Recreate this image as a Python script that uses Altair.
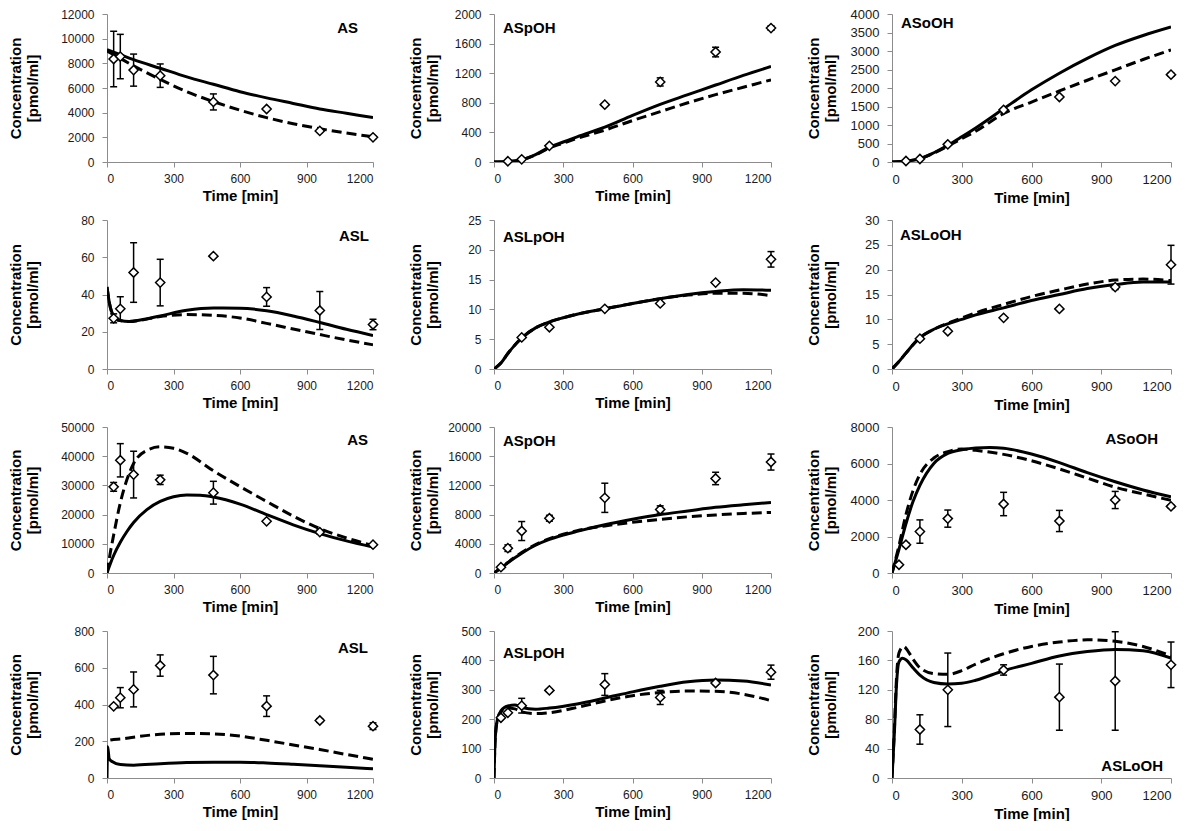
import altair as alt
import pandas as pd

X_TICKS = [0, 300, 600, 900, 1200]
Y_TITLE = ["Concentration", "[pmol/ml]"]

# ---------------- Row 1 ----------------
# AS (row 1)
A1_obs_t = [30, 60, 120, 240, 480, 720, 960, 1200]
A1_obs_y = [8350, 8550, 7450, 7000, 4870, 4300, 2520, 2000]
A1_obs_sd = [2250, 1800, 1300, 950, 650, 0, 0, 100]
A1_sol_t = [0, 60, 120, 240, 360, 480, 600, 720, 840, 960, 1080, 1200]
A1_sol_y = [9100, 8700, 8300, 7600, 6900, 6300, 5700, 5200, 4750, 4300, 3950, 3600]
A1_das_t = [0, 60, 120, 240, 360, 480, 600, 720, 840, 960, 1080, 1200]
A1_das_y = [9000, 8400, 7800, 6700, 5700, 4900, 4200, 3600, 3100, 2700, 2350, 2050]

# ASpOH (row 1)
B1_obs_t = [60, 120, 240, 480, 720, 960, 1200]
B1_obs_y = [10, 36, 218, 775, 1082, 1486, 1810]
B1_obs_sd = [0, 0, 0, 0, 55, 65, 30]
B1_sol_t = [0, 60, 120, 180, 240, 300, 360, 480, 600, 720, 840, 960, 1080, 1200]
B1_sol_y = [0, 5, 30, 100, 200, 270, 340, 470, 630, 780, 910, 1040, 1170, 1290]
B1_das_t = [0, 60, 120, 180, 240, 300, 360, 480, 600, 720, 840, 960, 1080, 1200]
B1_das_y = [0, 5, 30, 95, 190, 255, 320, 430, 560, 680, 800, 910, 1010, 1110]

# ASoOH (row 1)
C1_obs_t = [60, 120, 240, 480, 720, 960, 1200]
C1_obs_y = [27, 80, 476, 1409, 1757, 2187, 2361]
C1_obs_sd = [0, 0, 0, 0, 0, 0, 40]
C1_sol_t = [0, 60, 120, 180, 240, 300, 360, 480, 600, 720, 840, 960, 1080, 1200]
C1_sol_y = [0, 25, 90, 250, 450, 680, 920, 1440, 1950, 2400, 2800, 3150, 3420, 3650]
C1_das_t = [0, 60, 120, 180, 240, 300, 360, 480, 600, 720, 840, 960, 1080, 1200]
C1_das_y = [0, 25, 90, 240, 430, 630, 830, 1310, 1620, 1920, 2210, 2490, 2770, 3030]

# ---------------- Row 2 ----------------
# ASL (row 2)
A2_obs_t = [30, 60, 120, 240, 480, 720, 960, 1200]
A2_obs_y = [27.2, 32.3, 51.8, 46.4, 60.6, 38.7, 31.4, 23.9]
A2_obs_sd = [2.4, 6.5, 16, 12.5, 0, 5, 10.2, 2.8]
A2_sol_t = [0, 10, 20, 40, 60, 100, 150, 240, 360, 480, 600, 720, 840, 960, 1080, 1200]
A2_sol_y = [44, 36, 31, 27.5, 26, 25.5, 26.3, 28.5, 31.5, 32.7, 32.6, 31.3, 28.5, 25, 21.3, 18]
A2_das_t = [0, 10, 20, 40, 60, 100, 150, 240, 360, 480, 600, 720, 840, 960, 1080, 1200]
A2_das_y = [44, 36, 31, 27.5, 26, 25.5, 26.2, 28.2, 29.2, 28.8, 27.4, 24.5, 21.5, 18.5, 15.6, 13]

# ASLpOH (row 2)
B2_obs_t = [120, 240, 480, 720, 960, 1200]
B2_obs_y = [5.3, 7.0, 10.1, 11.0, 14.5, 18.4]
B2_obs_sd = [0, 0, 0, 0, 0, 1.3]
B2_sol_t = [0, 30, 60, 120, 180, 240, 300, 360, 480, 600, 720, 840, 960, 1080, 1200]
B2_sol_y = [0, 1.0, 2.6, 5.2, 6.9, 7.9, 8.6, 9.2, 10.1, 11.0, 11.8, 12.5, 13.0, 13.3, 13.2]
B2_das_t = [0, 30, 60, 120, 180, 240, 300, 360, 480, 600, 720, 840, 960, 1080, 1200]
B2_das_y = [0, 1.0, 2.6, 5.2, 6.9, 7.9, 8.6, 9.2, 10.1, 11.0, 11.8, 12.4, 12.7, 12.7, 12.3]

# ASLoOH (row 2)
C2_obs_t = [120, 240, 480, 720, 960, 1200]
C2_obs_y = [6.1, 7.6, 10.3, 12.1, 16.5, 21.0]
C2_obs_sd = [0, 0, 0, 0, 0.5, 3.9]
C2_sol_t = [0, 30, 60, 120, 180, 240, 300, 360, 480, 600, 720, 840, 960, 1080, 1200]
C2_sol_y = [0, 1.5, 3.2, 6.3, 8.0, 9.1, 10.0, 10.9, 12.3, 13.8, 15.0, 16.2, 17.0, 17.5, 17.5]
C2_das_t = [0, 30, 60, 120, 180, 240, 300, 360, 480, 600, 720, 840, 960, 1080, 1200]
C2_das_y = [0, 1.5, 3.2, 6.3, 8.0, 9.2, 10.3, 11.3, 13.0, 14.6, 15.9, 17.1, 17.9, 18.1, 17.8]

# ---------------- Row 3 ----------------
# AS (row 3)
A3_obs_t = [30, 60, 120, 240, 480, 720, 960, 1200]
A3_obs_y = [29500, 38600, 33700, 31900, 27500, 17700, 14000, 9700]
A3_obs_sd = [1500, 5700, 8000, 1600, 3900, 0, 700, 0]
A3_sol_t = [0, 15, 30, 60, 90, 120, 180, 240, 300, 360, 420, 480, 600, 720, 840, 960, 1080, 1200]
A3_sol_y = [0, 3200, 6000, 10500, 14200, 17300, 21700, 24500, 26100, 26700, 26600, 26000, 23600, 20000, 16500, 13500, 11000, 8900]
A3_das_t = [0, 15, 30, 60, 90, 120, 180, 240, 300, 360, 480, 600, 720, 840, 960, 1080, 1200]
A3_das_y = [0, 7000, 13000, 24000, 32000, 37500, 42000, 43200, 42700, 41000, 35000, 29600, 24500, 19500, 15200, 12000, 9400]

# ASpOH (row 3)
B3_obs_t = [30, 60, 120, 240, 480, 720, 960, 1200]
B3_obs_y = [800, 3400, 5750, 7500, 10300, 8700, 12950, 15200]
B3_obs_sd = [200, 450, 1300, 400, 2000, 500, 850, 1100]
B3_sol_t = [0, 30, 60, 120, 180, 240, 300, 360, 480, 600, 720, 840, 960, 1080, 1200]
B3_sol_y = [0, 700, 1400, 2700, 3800, 4600, 5200, 5700, 6600, 7350, 8000, 8500, 9000, 9350, 9650]
B3_das_t = [0, 30, 60, 120, 180, 240, 300, 360, 480, 600, 720, 840, 960, 1080, 1200]
B3_das_y = [0, 700, 1450, 2800, 3900, 4700, 5300, 5800, 6450, 6950, 7350, 7700, 7950, 8150, 8300]

# ASoOH (row 3)
C3_obs_t = [30, 60, 120, 240, 480, 720, 960, 1200]
C3_obs_y = [450, 1550, 2270, 2980, 3780, 2850, 4000, 3650]
C3_obs_sd = [0, 100, 640, 470, 640, 580, 470, 80]
C3_sol_t = [0, 30, 60, 90, 120, 180, 240, 300, 360, 420, 480, 600, 720, 840, 960, 1080, 1200]
C3_sol_y = [0, 1300, 2700, 3900, 4800, 6000, 6550, 6750, 6850, 6870, 6830, 6520, 6050, 5500, 5000, 4550, 4170]
C3_das_t = [0, 30, 60, 90, 120, 180, 240, 300, 360, 480, 600, 720, 840, 960, 1080, 1200]
C3_das_y = [0, 1500, 3200, 4500, 5400, 6300, 6650, 6800, 6720, 6500, 6150, 5700, 5200, 4700, 4330, 3980]

# ---------------- Row 4 ----------------
# ASL (row 4)
A4_obs_t = [30, 60, 120, 240, 480, 720, 960, 1200]
A4_obs_y = [390, 437, 482, 612, 560, 391, 313, 282]
A4_obs_sd = [0, 55, 95, 58, 102, 56, 10, 18]
A4_sol_t = [0, 3, 10, 25, 60, 120, 240, 360, 480, 600, 720, 840, 960, 1080, 1200]
A4_sol_y = [0, 170, 105, 88, 73, 70, 78, 84, 86, 86, 82, 75, 67, 58, 50]
A4_das_t = [15, 30, 60, 120, 240, 360, 480, 600, 720, 840, 960, 1080, 1200]
A4_das_y = [207, 210, 212, 222, 238, 242, 240, 228, 205, 180, 155, 128, 102]

# ASLpOH (row 4)
B4_obs_t = [30, 60, 120, 240, 480, 720, 960, 1200]
B4_obs_y = [205, 222, 246, 298, 318, 274, 323, 360]
B4_obs_sd = [0, 0, 25, 5, 37, 24, 5, 24]
B4_sol_t = [0, 5, 15, 30, 60, 90, 120, 180, 240, 360, 480, 600, 720, 840, 960, 1080, 1200]
B4_sol_y = [0, 130, 200, 228, 245, 248, 240, 234, 238, 252, 272, 293, 312, 327, 333, 330, 316]
B4_das_t = [0, 5, 15, 30, 60, 90, 120, 180, 240, 360, 480, 600, 720, 840, 960, 1080, 1200]
B4_das_y = [0, 130, 200, 225, 238, 235, 225, 219, 222, 240, 262, 280, 291, 296, 295, 285, 263]

# ASLoOH (row 4)
C4_obs_t = [120, 240, 480, 720, 960, 1200]
C4_obs_y = [66, 120, 147, 110, 132, 154]
C4_obs_sd = [20, 50, 7, 45, 67, 31]
C4_sol_t = [0, 10, 20, 30, 45, 60, 90, 120, 180, 240, 300, 360, 480, 600, 720, 840, 960, 1080, 1200]
C4_sol_y = [0, 60, 130, 158, 163, 161, 150, 140, 130, 128, 129, 133, 146, 156, 166, 172, 175, 173, 163]
C4_das_t = [0, 10, 20, 30, 50, 70, 90, 120, 180, 240, 300, 360, 480, 600, 720, 840, 960, 1080, 1200]
C4_das_y = [0, 65, 140, 170, 179, 172, 162, 150, 142, 141, 146, 155, 169, 179, 185, 188, 186, 179, 166]

# ---------------- layout settings ----------------
COL_W = [266, 277, 279]
ROW_H = [148, 149, 146, 147]
LAB_FS = [12, 12, 13]
Y_EXT = [45, 40, 40]
Y_TPAD = [22, 14, 14]
FONT = "Liberation Sans"


def panel(name, ot, oy, osd, st, sy, dt, dy, ymax, ystep, col, row, lab):
    w, h = COL_W[col], ROW_H[row]
    xs = alt.Scale(domain=[0, 1200], nice=False, zero=False)
    ys = alt.Scale(domain=[0, ymax], nice=False)
    xax = alt.Axis(values=X_TICKS, title="Time [min]", labelFontSize=LAB_FS[col],
                   format="d", labelOverlap=False)
    yax = alt.Axis(values=list(range(0, ymax + 1, ystep)), format="d", title=Y_TITLE,
                   minExtent=Y_EXT[col], maxExtent=Y_EXT[col], titlePadding=Y_TPAD[col],
                   labelFontSize=LAB_FS[col], labelOverlap=False, tickCount=len(range(0, ymax + 1, ystep)))

    def X(f="t"):
        return alt.X(f"{f}:Q", scale=xs, axis=xax)

    def Y(f="y"):
        return alt.Y(f"{f}:Q", scale=ys, axis=yax)

    obs = pd.DataFrame({"t": ot, "y": oy, "sd": osd})
    obs["lo"] = obs["y"] - obs["sd"]
    obs["hi"] = obs["y"] + obs["sd"]
    err = obs[obs["sd"] > 0]
    sol = pd.DataFrame({"t": st, "y": sy})
    das = pd.DataFrame({"t": dt, "y": dy})
    l_sol = alt.Chart(sol).mark_line(color="black", strokeWidth=3, interpolate="monotone",
                                     clip=True).encode(x=X(), y=Y())
    l_das = alt.Chart(das).mark_line(color="black", strokeWidth=3, strokeDash=[10, 5],
                                     interpolate="monotone", clip=True).encode(x=X(), y=Y())
    bars = alt.Chart(err).mark_rule(color="black", strokeWidth=1.5).encode(
        x=X(), y=Y("lo"), y2="hi:Q")
    cap_lo = alt.Chart(err).mark_tick(orient="horizontal", color="black", size=7,
                                      thickness=1.5, opacity=1).encode(x=X(), y=Y("lo"))
    cap_hi = alt.Chart(err).mark_tick(orient="horizontal", color="black", size=7,
                                      thickness=1.5, opacity=1).encode(x=X(), y=Y("hi"))
    pts = alt.Chart(obs).mark_point(shape="diamond", filled=True, fill="white",
                                    stroke="black", strokeWidth=1.5, size=85,
                                    opacity=1).encode(x=X(), y=Y())
    align, side, dx, yy = lab
    px = dx if side == "left" else w - dx
    py = yy if yy >= 0 else h + yy
    txt = alt.Chart(pd.DataFrame({"lab": [name]})).mark_text(
        font=FONT, fontSize=15, fontWeight="bold", align=align, baseline="middle",
        color="black").encode(text="lab:N", x=alt.value(px), y=alt.value(py))
    return alt.layer(l_sol, l_das, bars, cap_lo, cap_hi, pts, txt).properties(
        width=w, height=h)


rows = [
    alt.hconcat(
        panel("AS", A1_obs_t, A1_obs_y, A1_obs_sd, A1_sol_t, A1_sol_y, A1_das_t, A1_das_y,
              12000, 2000, 0, 0, ("right", "right", 15, 14)),
        panel("ASpOH", B1_obs_t, B1_obs_y, B1_obs_sd, B1_sol_t, B1_sol_y, B1_das_t, B1_das_y,
              2000, 400, 1, 0, ("left", "left", 9, 14)),
        panel("ASoOH", C1_obs_t, C1_obs_y, C1_obs_sd, C1_sol_t, C1_sol_y, C1_das_t, C1_das_y,
              4000, 500, 2, 0, ("left", "left", 9, 9)),
        spacing=27),
    alt.hconcat(
        panel("ASL", A2_obs_t, A2_obs_y, A2_obs_sd, A2_sol_t, A2_sol_y, A2_das_t, A2_das_y,
              80, 20, 0, 1, ("right", "right", 4, 16)),
        panel("ASLpOH", B2_obs_t, B2_obs_y, B2_obs_sd, B2_sol_t, B2_sol_y, B2_das_t, B2_das_y,
              25, 5, 1, 1, ("left", "left", 9, 17)),
        panel("ASLoOH", C2_obs_t, C2_obs_y, C2_obs_sd, C2_sol_t, C2_sol_y, C2_das_t, C2_das_y,
              30, 5, 2, 1, ("left", "left", 8, 15)),
        spacing=27),
    alt.hconcat(
        panel("AS", A3_obs_t, A3_obs_y, A3_obs_sd, A3_sol_t, A3_sol_y, A3_das_t, A3_das_y,
              50000, 10000, 0, 2, ("right", "right", 5, 13)),
        panel("ASpOH", B3_obs_t, B3_obs_y, B3_obs_sd, B3_sol_t, B3_sol_y, B3_das_t, B3_das_y,
              20000, 4000, 1, 2, ("left", "left", 9, 14)),
        panel("ASoOH", C3_obs_t, C3_obs_y, C3_obs_sd, C3_sol_t, C3_sol_y, C3_das_t, C3_das_y,
              8000, 2000, 2, 2, ("right", "right", 13, 12)),
        spacing=27),
    alt.hconcat(
        panel("ASL", A4_obs_t, A4_obs_y, A4_obs_sd, A4_sol_t, A4_sol_y, A4_das_t, A4_das_y,
              800, 200, 0, 3, ("right", "right", 5, 17)),
        panel("ASLpOH", B4_obs_t, B4_obs_y, B4_obs_sd, B4_sol_t, B4_sol_y, B4_das_t, B4_das_y,
              500, 100, 1, 3, ("left", "left", 9, 22)),
        panel("ASLoOH", C4_obs_t, C4_obs_y, C4_obs_sd, C4_sol_t, C4_sol_y, C4_das_t, C4_das_y,
              200, 40, 2, 3, ("right", "right", 8, -12)),
        spacing=27),
]

chart = alt.vconcat(*rows, spacing=9).properties(
    padding=0, background="white"
).configure_view(stroke=None).configure_axis(
    grid=False, domainColor="#8c8c8c", tickColor="#8c8c8c", tickSize=5,
    labelColor="#1a1a1a", titleColor="#000000", labelFont=FONT, titleFont=FONT,
    titleFontSize=15, titleFontWeight="bold", labelOverlap=False
).configure_axisY(
    titleLineHeight=17, labelPadding=8
).configure_axisX(
    labelPadding=6, titlePadding=4
)

chart.save("out.html", embed_options={"renderer": "svg", "actions": False})
